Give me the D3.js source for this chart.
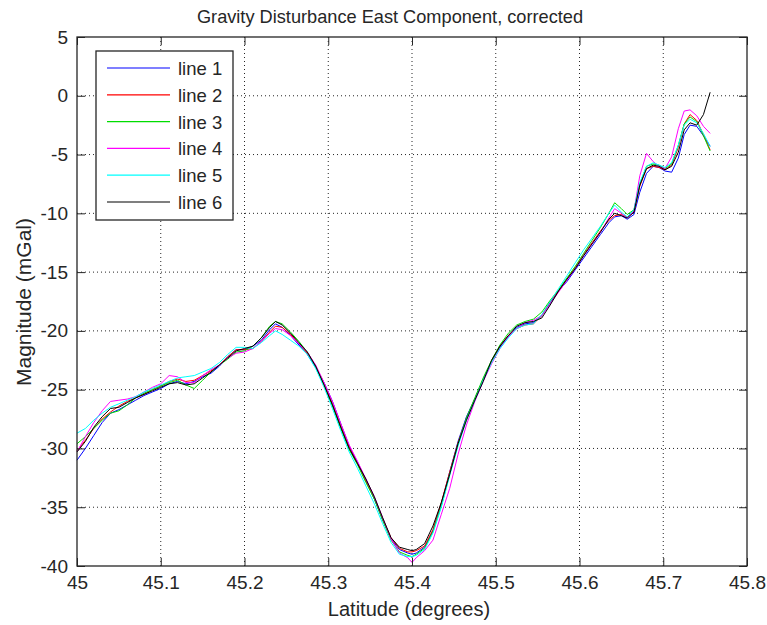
<!DOCTYPE html>
<html>
<head>
<meta charset="utf-8">
<script src="https://cdn.jsdelivr.net/npm/d3@7"></script>
<style>
  body { margin: 0; background: #fff; }
  svg { display: block; font-family: "Liberation Sans", Arial, sans-serif; }
</style>
</head>
<body>
<svg id="chart" width="767" height="625"></svg>
<script>
// latitude samples shared by all six lines
const lat = [45.000,45.010,45.020,45.030,45.040,45.050,45.060,45.070,45.080,45.090,
  45.100,45.110,45.120,45.130,45.140,45.150,45.160,45.170,45.180,45.190,
  45.200,45.210,45.220,45.230,45.237,45.245,45.255,45.265,45.275,45.285,
  45.295,45.305,45.315,45.325,45.335,45.345,45.355,45.365,45.375,45.385,
  45.395,45.400,45.405,45.415,45.425,45.435,45.445,45.455,45.465,45.475,
  45.485,45.495,45.505,45.515,45.525,45.535,45.545,45.555,45.565,45.575,
  45.585,45.595,45.605,45.615,45.625,45.635,45.642,45.650,45.657,45.665,
  45.672,45.680,45.688,45.695,45.702,45.710,45.718,45.725,45.732,45.740,
  45.748,45.756];

// magnitude (mGal) per line
const line1 = [-31.0,-30.0,-28.9,-27.8,-27.0,-26.7,-26.3,-25.9,-25.5,-25.2,
  -24.9,-24.5,-24.3,-24.5,-24.3,-23.9,-23.6,-23.0,-22.2,-21.6,
  -21.6,-21.3,-20.8,-19.9,-19.4,-19.7,-20.4,-21.2,-22.0,-23.1,
  -24.4,-26.0,-27.9,-29.8,-31.2,-32.7,-34.3,-36.1,-37.7,-38.6,
  -38.9,-39.0,-38.9,-38.4,-37.0,-34.7,-32.0,-29.4,-27.3,-25.8,
  -24.1,-22.6,-21.4,-20.5,-19.7,-19.4,-19.3,-18.7,-17.6,-16.6,
  -15.8,-14.8,-13.8,-12.8,-11.8,-10.8,-10.3,-10.2,-10.5,-10.1,
  -8.2,-6.6,-6.0,-6.1,-6.4,-6.5,-5.3,-3.3,-2.5,-2.6,
  -3.4,-4.3];
const line2 = [-30.2,-29.3,-28.3,-27.5,-26.9,-26.4,-26.0,-25.7,-25.4,-25.0,
  -24.7,-24.3,-24.1,-24.3,-24.2,-23.8,-23.4,-22.9,-22.2,-21.6,
  -21.6,-21.5,-20.9,-20.1,-19.6,-19.7,-20.3,-21.1,-21.9,-23.0,
  -24.5,-26.2,-28.1,-29.9,-31.3,-32.8,-34.2,-36.0,-37.6,-38.5,
  -38.8,-38.8,-38.7,-38.3,-36.9,-34.6,-32.0,-29.5,-27.5,-25.8,
  -24.2,-22.6,-21.3,-20.4,-19.8,-19.5,-19.4,-18.7,-17.5,-16.6,
  -15.6,-14.6,-13.5,-12.5,-11.5,-10.6,-10.2,-10.1,-10.3,-9.9,
  -7.7,-6.2,-6.0,-6.1,-6.3,-5.9,-4.4,-2.4,-1.6,-2.1,
  -3.3,-4.6];
const line3 = [-29.6,-29.0,-28.3,-27.6,-27.0,-26.8,-26.3,-25.7,-25.3,-25.0,
  -24.7,-24.4,-24.2,-24.6,-24.9,-24.2,-23.5,-22.9,-22.4,-21.8,
  -21.7,-21.3,-20.6,-19.6,-19.2,-19.4,-20.1,-20.9,-21.8,-23.0,
  -24.6,-26.4,-28.3,-30.1,-31.4,-32.9,-34.3,-36.1,-37.8,-38.8,
  -39.1,-39.2,-39.0,-38.5,-37.1,-34.9,-32.2,-29.6,-27.4,-25.7,
  -24.0,-22.5,-21.2,-20.2,-19.5,-19.2,-19.0,-18.4,-17.4,-16.5,
  -15.5,-14.5,-13.4,-12.3,-11.2,-10.0,-9.1,-9.6,-10.1,-9.7,
  -7.5,-6.0,-5.8,-5.9,-6.2,-5.8,-4.2,-2.4,-1.8,-2.2,
  -3.4,-4.7];
const line4 = [-30.3,-29.0,-27.8,-26.8,-26.0,-25.9,-25.8,-25.6,-25.2,-24.8,
  -24.5,-23.8,-23.9,-24.4,-24.4,-23.8,-23.3,-22.9,-22.3,-21.9,
  -21.8,-21.5,-20.9,-20.2,-19.8,-19.9,-20.4,-21.1,-21.8,-22.9,
  -24.4,-26.0,-27.9,-29.7,-31.1,-32.6,-34.1,-35.9,-37.7,-38.9,
  -39.3,-39.7,-39.3,-38.7,-37.8,-35.6,-33.4,-30.5,-28.0,-26.0,
  -24.3,-22.8,-21.5,-20.5,-19.8,-19.3,-19.1,-18.7,-17.7,-16.7,
  -15.7,-14.7,-13.6,-12.6,-11.6,-10.4,-9.6,-10.0,-10.4,-9.8,
  -6.8,-4.9,-5.6,-6.0,-6.2,-5.2,-2.8,-1.3,-1.2,-1.7,
  -2.6,-3.2];
const line5 = [-28.7,-28.3,-27.6,-27.0,-26.5,-26.2,-25.9,-25.6,-25.2,-24.9,
  -24.6,-24.3,-24.0,-23.9,-23.8,-23.5,-23.2,-22.7,-22.0,-21.4,
  -21.4,-21.5,-21.0,-20.4,-20.0,-20.3,-20.8,-21.3,-22.0,-23.2,
  -24.8,-26.6,-28.5,-30.3,-31.7,-33.2,-34.7,-36.4,-38.0,-39.0,
  -39.2,-39.2,-39.1,-38.6,-37.2,-35.0,-32.3,-29.8,-27.6,-25.9,
  -24.2,-22.7,-21.5,-20.6,-19.8,-19.5,-19.4,-18.6,-17.5,-16.4,
  -15.3,-14.2,-13.1,-12.1,-11.1,-10.0,-9.3,-9.9,-10.3,-9.7,
  -7.4,-6.0,-5.7,-5.9,-6.1,-5.7,-4.2,-2.5,-2.0,-2.3,
  -3.2,-4.3];
const line6 = [-30.3,-29.4,-28.2,-27.3,-26.6,-26.5,-26.1,-25.7,-25.4,-25.1,
  -24.8,-24.5,-24.4,-24.6,-24.5,-24.0,-23.5,-22.9,-22.3,-21.7,
  -21.5,-21.3,-20.6,-19.7,-19.2,-19.5,-20.2,-21.0,-21.8,-23.0,
  -24.6,-26.3,-28.2,-30.0,-31.3,-32.6,-34.1,-35.9,-37.6,-38.4,
  -38.6,-38.7,-38.6,-38.1,-36.6,-34.6,-32.2,-29.6,-27.6,-25.9,
  -24.3,-22.5,-21.3,-20.4,-19.6,-19.3,-19.2,-18.9,-17.8,-16.6,
  -15.6,-14.7,-13.6,-12.6,-11.6,-10.5,-10.0,-10.2,-10.4,-9.9,
  -7.6,-6.2,-5.9,-6.0,-6.3,-6.0,-4.8,-2.9,-2.3,-2.5,
  -1.6,0.3];

const seriesNames = ['line 1', 'line 2', 'line 3', 'line 4', 'line 5', 'line 6'];
const seriesValues = [line1, line2, line3, line4, line5, line6];
const seriesColors = ['#0000ff', '#ff0000', '#00dd00', '#ff00ff', '#00ffff', '#000000'];

const xTicks = [45, 45.1, 45.2, 45.3, 45.4, 45.5, 45.6, 45.7, 45.8];
const yTicks = [5, 0, -5, -10, -15, -20, -25, -30, -35, -40];

const width = 767, height = 625;
const margin = {top: 37, right: 20, bottom: 59, left: 77};
const innerW = width - margin.left - margin.right;
const innerH = height - margin.top - margin.bottom;
const ink = '#262626';

const svg = d3.select('#chart');
const g = svg.append('g').attr('transform', `translate(${margin.left},${margin.top})`);

const x = d3.scaleLinear().domain([45, 45.8]).range([0, innerW]);
const y = d3.scaleLinear().domain([-40, 5]).range([innerH, 0]);

// dotted grid
g.append('g')
  .selectAll('line')
  .data(xTicks.slice(1, -1))
  .join('line')
  .attr('x1', d => x(d)).attr('x2', d => x(d))
  .attr('y1', 0).attr('y2', innerH)
  .attr('stroke', ink).attr('stroke-width', 1)
  .attr('stroke-dasharray', '1,3');

g.append('g')
  .selectAll('line')
  .data(yTicks.slice(1, -1))
  .join('line')
  .attr('x1', 0).attr('x2', innerW)
  .attr('y1', d => y(d)).attr('y2', d => y(d))
  .attr('stroke', ink).attr('stroke-width', 1)
  .attr('stroke-dasharray', '1,3');

// data lines
const line = d3.line()
  .x((d, i) => x(lat[i]))
  .y(d => y(d));

g.append('g')
  .selectAll('path')
  .data(seriesValues)
  .join('path')
  .attr('fill', 'none')
  .attr('stroke', (d, i) => seriesColors[i])
  .attr('stroke-width', 1)
  .attr('d', line);

// axes with inward ticks on all four sides
const tickLen = 8;
const fmt = d => String(d);

function styleAxis(sel) {
  sel.select('.domain').remove();
  sel.selectAll('.tick line').attr('stroke', ink);
  sel.selectAll('.tick text').attr('fill', ink).style('font-size', '19px');
}

g.append('g')
  .attr('transform', `translate(0,${innerH})`)
  .call(d3.axisBottom(x).tickValues(xTicks).tickFormat(fmt).tickSizeInner(-tickLen).tickPadding(10))
  .call(styleAxis);

g.append('g')
  .call(d3.axisTop(x).tickValues(xTicks).tickFormat('').tickSizeInner(-tickLen))
  .call(styleAxis);

g.append('g')
  .call(d3.axisLeft(y).tickValues(yTicks).tickFormat(fmt).tickSizeInner(-tickLen).tickPadding(9))
  .call(styleAxis);

g.append('g')
  .attr('transform', `translate(${innerW},0)`)
  .call(d3.axisRight(y).tickValues(yTicks).tickFormat('').tickSizeInner(-tickLen))
  .call(styleAxis);

// plot box
g.append('rect')
  .attr('width', innerW).attr('height', innerH)
  .attr('fill', 'none').attr('stroke', ink).attr('stroke-width', 1.3);

// title and axis labels
svg.append('text')
  .attr('x', 390).attr('y', 23)
  .attr('text-anchor', 'middle').attr('fill', ink)
  .style('font-size', '18.2px')
  .text('Gravity Disturbance East Component, corrected');

svg.append('text')
  .attr('x', 409).attr('y', 616)
  .attr('text-anchor', 'middle').attr('fill', ink)
  .style('font-size', '20px')
  .text('Latitude (degrees)');

svg.append('text')
  .attr('transform', 'translate(31,302) rotate(-90)')
  .attr('text-anchor', 'middle').attr('fill', ink)
  .style('font-size', '21px')
  .text('Magnitude (mGal)');

// legend
const legend = svg.append('g').attr('transform', 'translate(96,51)');
legend.append('rect')
  .attr('width', 137).attr('height', 169)
  .attr('fill', '#fff').attr('stroke', ink).attr('stroke-width', 1.3);

const item = legend.selectAll('g.item')
  .data(seriesNames)
  .join('g')
  .attr('class', 'item')
  .attr('transform', (d, i) => `translate(0,${17 + i * 26.8})`);

item.append('line')
  .attr('x1', 11).attr('x2', 74)
  .attr('stroke', (d, i) => seriesColors[i])
  .attr('stroke-width', 1.2);

item.append('text')
  .attr('x', 82).attr('y', 7)
  .attr('fill', ink)
  .style('font-size', '18.5px')
  .text(d => d);
</script>
</body>
</html>
